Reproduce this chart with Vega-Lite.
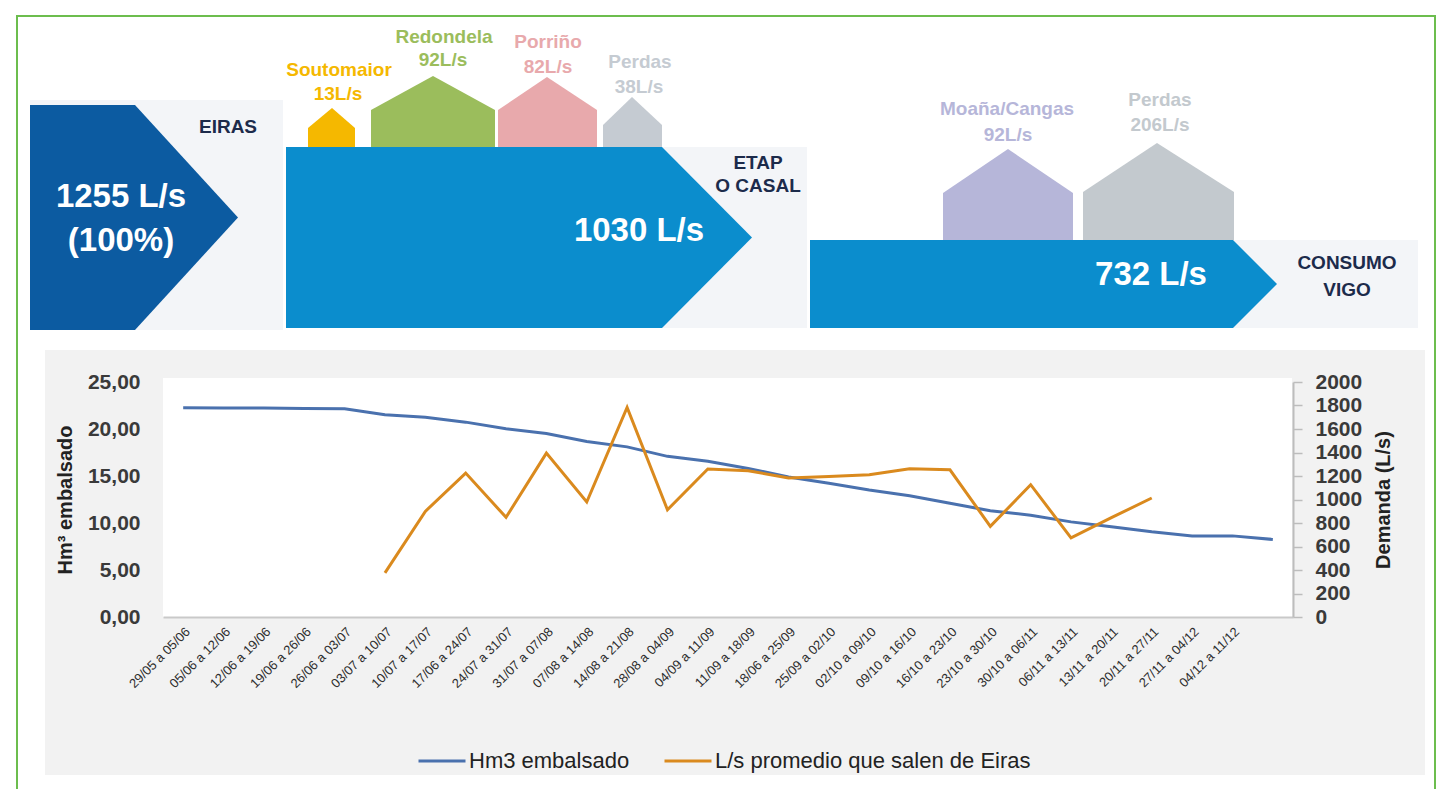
{
  "$schema": "https://vega.github.io/schema/vega-lite/v6.json",
  "width": 1130,
  "height": 235,
  "autosize": {"type": "none"},
  "padding": {"left": 163, "top": 382, "right": 153, "bottom": 172},
  "background": "#ffffff",
  "config": {"view": {"stroke": null}, "font": "Liberation Sans"},
  "datasets": {
    "fondos": [
      {"forma": "fondo gráfico", "gx": 45, "gx2": 1425, "gy": 350, "gy2": 775},
      {"forma": "área gráfico", "gx": 163, "gx2": 1292, "gy": 378, "gy2": 617},
      {"forma": "fondo", "gx": 30, "gx2": 283, "gy": 100, "gy2": 330},
      {"forma": "fondo", "gx": 662, "gx2": 807, "gy": 147, "gy2": 328},
      {"forma": "fondo", "gx": 1233, "gx2": 1418, "gy": 240, "gy2": 328}
    ],
    "formas": [
      {"forma": "EIRAS", "gx": 30, "gy": 105, "gy2": 330},
      {"forma": "EIRAS", "gx": 135, "gy": 105, "gy2": 330},
      {"forma": "EIRAS", "gx": 238, "gy": 217.5, "gy2": 217.5},
      {"forma": "ETAP", "gx": 286, "gy": 147, "gy2": 328},
      {"forma": "ETAP", "gx": 662, "gy": 147, "gy2": 328},
      {"forma": "ETAP", "gx": 752, "gy": 237.5, "gy2": 237.5},
      {"forma": "CONSUMO", "gx": 810, "gy": 240, "gy2": 328},
      {"forma": "CONSUMO", "gx": 1233, "gy": 240, "gy2": 328},
      {"forma": "CONSUMO", "gx": 1277, "gy": 284, "gy2": 284},
      {"forma": "Soutomaior", "gx": 308, "gy": 128, "gy2": 147},
      {"forma": "Soutomaior", "gx": 332, "gy": 108, "gy2": 147},
      {"forma": "Soutomaior", "gx": 355, "gy": 128, "gy2": 147},
      {"forma": "Redondela", "gx": 371, "gy": 110, "gy2": 147},
      {"forma": "Redondela", "gx": 433, "gy": 76, "gy2": 147},
      {"forma": "Redondela", "gx": 495, "gy": 110, "gy2": 147},
      {"forma": "Porriño", "gx": 498, "gy": 110, "gy2": 147},
      {"forma": "Porriño", "gx": 547, "gy": 77, "gy2": 147},
      {"forma": "Porriño", "gx": 597, "gy": 110, "gy2": 147},
      {"forma": "Perdas ETAP", "gx": 603, "gy": 125, "gy2": 147},
      {"forma": "Perdas ETAP", "gx": 632, "gy": 97, "gy2": 147},
      {"forma": "Perdas ETAP", "gx": 662, "gy": 125, "gy2": 147},
      {"forma": "Moaña/Cangas", "gx": 943, "gy": 193, "gy2": 240},
      {"forma": "Moaña/Cangas", "gx": 1008, "gy": 149, "gy2": 240},
      {"forma": "Moaña/Cangas", "gx": 1073, "gy": 193, "gy2": 240},
      {"forma": "Perdas Vigo", "gx": 1083, "gy": 192, "gy2": 240},
      {"forma": "Perdas Vigo", "gx": 1157, "gy": 143, "gy2": 240},
      {"forma": "Perdas Vigo", "gx": 1234, "gy": 192, "gy2": 240}
    ],
    "textos_valor": [
      {"texto": "1255 L/s", "gx": 121, "gy": 197},
      {"texto": "(100%)", "gx": 121, "gy": 241},
      {"texto": "1030 L/s", "gx": 639, "gy": 231},
      {"texto": "732 L/s", "gx": 1151, "gy": 275}
    ],
    "textos_lugar": [
      {"texto": "EIRAS", "gx": 228, "gy": 127},
      {"texto": "ETAP", "gx": 758, "gy": 163},
      {"texto": "O CASAL", "gx": 758, "gy": 186},
      {"texto": "CONSUMO", "gx": 1347, "gy": 263},
      {"texto": "VIGO", "gx": 1347, "gy": 290}
    ],
    "textos_casas": [
      {"forma": "Soutomaior", "texto": "Soutomaior", "gx": 339, "gy": 70},
      {"forma": "Soutomaior", "texto": "13L/s", "gx": 338, "gy": 94},
      {"forma": "Redondela", "texto": "Redondela", "gx": 444, "gy": 37},
      {"forma": "Redondela", "texto": "92L/s", "gx": 443, "gy": 60},
      {"forma": "Porriño", "texto": "Porriño", "gx": 548, "gy": 42},
      {"forma": "Porriño", "texto": "82L/s", "gx": 548, "gy": 67},
      {"forma": "Perdas ETAP", "texto": "Perdas", "gx": 640, "gy": 62},
      {"forma": "Perdas ETAP", "texto": "38L/s", "gx": 639, "gy": 87},
      {"forma": "Moaña/Cangas", "texto": "Moaña/Cangas", "gx": 1007, "gy": 109},
      {"forma": "Moaña/Cangas", "texto": "92L/s", "gx": 1008, "gy": 135},
      {"forma": "Perdas Vigo", "texto": "Perdas", "gx": 1160, "gy": 100},
      {"forma": "Perdas Vigo", "texto": "206L/s", "gx": 1160, "gy": 125}
    ],
    "marco": [{"gx": 17, "gx2": 1435, "gy": 16, "gy2": 805}],
    "semanal": [
      {"semana": "29/05 a 05/06", "hm3": 22.26, "ls": null},
      {"semana": "05/06 a 12/06", "hm3": 22.24, "ls": null},
      {"semana": "12/06 a 19/06", "hm3": 22.23, "ls": null},
      {"semana": "19/06 a 26/06", "hm3": 22.19, "ls": null},
      {"semana": "26/06 a 03/07", "hm3": 22.15, "ls": null},
      {"semana": "03/07 a 10/07", "hm3": 21.52, "ls": 376},
      {"semana": "10/07 a 17/07", "hm3": 21.26, "ls": 899},
      {"semana": "17/06 a 24/07", "hm3": 20.73, "ls": 1225},
      {"semana": "24/07 a 31/07", "hm3": 20.03, "ls": 848},
      {"semana": "31/07 a 07/08", "hm3": 19.53, "ls": 1395},
      {"semana": "07/08 a 14/08", "hm3": 18.68, "ls": 979},
      {"semana": "14/08 a 21/08", "hm3": 18.1, "ls": 1783},
      {"semana": "28/08 a 04/09", "hm3": 17.09, "ls": 913},
      {"semana": "04/09 a 11/09", "hm3": 16.56, "ls": 1259},
      {"semana": "11/09 a 18/09", "hm3": 15.8, "ls": 1245},
      {"semana": "18/06 a 25/09", "hm3": 14.9, "ls": 1183},
      {"semana": "25/09 a 02/10", "hm3": 14.23, "ls": 1196},
      {"semana": "02/10 a 09/10", "hm3": 13.5, "ls": 1211},
      {"semana": "09/10 a 16/10", "hm3": 12.9, "ls": 1262},
      {"semana": "16/10 a 23/10", "hm3": 12.1, "ls": 1253},
      {"semana": "23/10 a 30/10", "hm3": 11.3, "ls": 771},
      {"semana": "30/10 a 06/11", "hm3": 10.83, "ls": 1126},
      {"semana": "06/11 a 13/11", "hm3": 10.12, "ls": 673},
      {"semana": "13/11 a 20/11", "hm3": 9.59, "ls": 845},
      {"semana": "20/11 a 27/11", "hm3": 9.06, "ls": 1013},
      {"semana": "27/11 a 04/12", "hm3": 8.63, "ls": null},
      {"semana": "04/12 a 11/12", "hm3": 8.63, "ls": null},
      {"semana": "", "hm3": 8.25, "ls": null}
    ]
  },
  "layer": [
    {
      "layer": [
        {
          "data": {"name": "fondos"},
          "mark": {"type": "rect"},
          "encoding": {
            "x": {"field": "gx", "type": "quantitative", "scale": {"domain": [0, 1446], "range": [-163, 1283], "nice": false, "zero": false}, "axis": null},
            "x2": {"field": "gx2"},
            "y": {"field": "gy", "type": "quantitative", "scale": {"domain": [0, 789], "range": [-382, 407], "nice": false, "zero": false}, "axis": null},
            "y2": {"field": "gy2"},
            "fill": {"field": "forma", "type": "nominal", "legend": null,
              "scale": {"domain": ["EIRAS", "ETAP", "CONSUMO", "Soutomaior", "Redondela", "Porriño", "Perdas ETAP", "Moaña/Cangas", "Perdas Vigo", "fondo", "fondo gráfico", "área gráfico"],
                        "range": ["#0c5ba1", "#0b8dcd", "#0b8dcd", "#f5b800", "#9bbd5c", "#e8a9ac", "#c5cbd2", "#b6b6d9", "#c3c9ce", "#f3f5f8", "#f2f2f2", "#ffffff"]}}
          }
        },
        {
          "data": {"name": "formas"},
          "mark": {"type": "area", "interpolate": "linear"},
          "encoding": {
            "x": {"field": "gx", "type": "quantitative", "scale": {"domain": [0, 1446], "range": [-163, 1283], "nice": false, "zero": false}, "axis": null},
            "y": {"field": "gy", "type": "quantitative", "stack": null, "scale": {"domain": [0, 789], "range": [-382, 407], "nice": false, "zero": false}, "axis": null},
            "y2": {"field": "gy2"},
            "fill": {"field": "forma", "type": "nominal", "legend": null,
              "scale": {"domain": ["EIRAS", "ETAP", "CONSUMO", "Soutomaior", "Redondela", "Porriño", "Perdas ETAP", "Moaña/Cangas", "Perdas Vigo", "fondo", "fondo gráfico", "área gráfico"],
                        "range": ["#0c5ba1", "#0b8dcd", "#0b8dcd", "#f5b800", "#9bbd5c", "#e8a9ac", "#c5cbd2", "#b6b6d9", "#c3c9ce", "#f3f5f8", "#f2f2f2", "#ffffff"]}}
          }
        },
        {
          "data": {"name": "textos_valor"},
          "mark": {"type": "text", "font": "Liberation Sans", "fontSize": 33, "fontWeight": "bold", "fill": "#ffffff", "align": "center", "baseline": "middle"},
          "encoding": {
            "x": {"field": "gx", "type": "quantitative", "scale": {"domain": [0, 1446], "range": [-163, 1283], "nice": false, "zero": false}, "axis": null},
            "y": {"field": "gy", "type": "quantitative", "scale": {"domain": [0, 789], "range": [-382, 407], "nice": false, "zero": false}, "axis": null},
            "text": {"field": "texto"}
          }
        },
        {
          "data": {"name": "textos_lugar"},
          "mark": {"type": "text", "font": "Liberation Sans", "fontSize": 19, "fontWeight": "bold", "fill": "#1c2b4b", "align": "center", "baseline": "middle"},
          "encoding": {
            "x": {"field": "gx", "type": "quantitative", "scale": {"domain": [0, 1446], "range": [-163, 1283], "nice": false, "zero": false}, "axis": null},
            "y": {"field": "gy", "type": "quantitative", "scale": {"domain": [0, 789], "range": [-382, 407], "nice": false, "zero": false}, "axis": null},
            "text": {"field": "texto"}
          }
        },
        {
          "data": {"name": "textos_casas"},
          "mark": {"type": "text", "font": "Liberation Sans", "fontSize": 19, "fontWeight": "bold", "align": "center", "baseline": "middle"},
          "encoding": {
            "x": {"field": "gx", "type": "quantitative", "scale": {"domain": [0, 1446], "range": [-163, 1283], "nice": false, "zero": false}, "axis": null},
            "y": {"field": "gy", "type": "quantitative", "scale": {"domain": [0, 789], "range": [-382, 407], "nice": false, "zero": false}, "axis": null},
            "text": {"field": "texto"},
            "fill": {"field": "forma", "type": "nominal", "legend": null,
              "scale": {"domain": ["EIRAS", "ETAP", "CONSUMO", "Soutomaior", "Redondela", "Porriño", "Perdas ETAP", "Moaña/Cangas", "Perdas Vigo", "fondo", "fondo gráfico", "área gráfico"],
                        "range": ["#0c5ba1", "#0b8dcd", "#0b8dcd", "#f5b800", "#9bbd5c", "#e8a9ac", "#c5cbd2", "#b6b6d9", "#c3c9ce", "#f3f5f8", "#f2f2f2", "#ffffff"]}}
          }
        },
        {
          "data": {"name": "marco"},
          "mark": {"type": "rect", "fill": "transparent", "stroke": "#6cbd4e", "strokeWidth": 2},
          "encoding": {
            "x": {"field": "gx", "type": "quantitative", "scale": {"domain": [0, 1446], "range": [-163, 1283], "nice": false, "zero": false}, "axis": null},
            "x2": {"field": "gx2"},
            "y": {"field": "gy", "type": "quantitative", "scale": {"domain": [0, 789], "range": [-382, 407], "nice": false, "zero": false}, "axis": null},
            "y2": {"field": "gy2"}
          }
        }
      ]
    },
    {
      "data": {"name": "semanal"},
      "encoding": {
        "x": {
          "field": "semana", "type": "nominal", "sort": null,
          "scale": {"type": "point", "padding": 0.5, "domain": ["29/05 a 05/06", "05/06 a 12/06", "12/06 a 19/06", "19/06 a 26/06", "26/06 a 03/07", "03/07 a 10/07", "10/07 a 17/07", "17/06 a 24/07", "24/07 a 31/07", "31/07 a 07/08", "07/08 a 14/08", "14/08 a 21/08", "28/08 a 04/09", "04/09 a 11/09", "11/09 a 18/09", "18/06 a 25/09", "25/09 a 02/10", "02/10 a 09/10", "09/10 a 16/10", "16/10 a 23/10", "23/10 a 30/10", "30/10 a 06/11", "06/11 a 13/11", "13/11 a 20/11", "20/11 a 27/11", "27/11 a 04/12", "04/12 a 11/12", ""]},
          "axis": {"orient": "bottom", "title": null, "labelAngle": -45, "labelAlign": "right", "labelBaseline": "top", "labelFont": "Liberation Sans", "labelFontSize": 13, "labelColor": "#2e2e2e", "labelPadding": 8, "ticks": false, "domain": true, "domainColor": "#c9c9c9", "domainWidth": 2, "grid": false, "labelOverlap": false, "labelBound": false, "labelLimit": 300, "zindex": 1}
        }
      },
      "layer": [
        {
          "mark": {"type": "line", "strokeWidth": 3},
          "encoding": {
            "y": {"field": "hm3", "type": "quantitative", "scale": {"domain": [0, 25], "nice": false},
              "axis": {"orient": "left", "values": [0, 5, 10, 15, 20, 25], "labelExpr": "replace(format(datum.value, '.2f'), '.', ',')", "title": "Hm³ embalsado", "titleFont": "Liberation Sans", "titleFontSize": 20, "titleFontWeight": "bold", "titleColor": "#222222", "titlePadding": 12, "labelFont": "Liberation Sans", "labelFontSize": 21, "labelFontWeight": "bold", "labelColor": "#3a3a3a", "labelPadding": 23, "ticks": false, "domain": false, "grid": false, "labelOverlap": false, "zindex": 1}},
            "stroke": {"datum": "Hm3 embalsado", "type": "nominal",
              "scale": {"domain": ["Hm3 embalsado", "L/s promedio que salen de Eiras"], "range": ["#4a71ae", "#da8a1e"]},
              "legend": {"orient": "none", "legendX": 254, "legendY": 354, "direction": "horizontal", "title": null, "symbolType": "stroke", "symbolSize": 2209, "symbolStrokeWidth": 3, "labelFont": "Liberation Sans", "labelFontSize": 22, "labelColor": "#222222", "labelLimit": 0, "columnPadding": 28, "labelOffset": 2, "padding": 0, "zindex": 1}}
          }
        },
        {
          "mark": {"type": "line", "strokeWidth": 3},
          "encoding": {
            "y": {"field": "ls", "type": "quantitative", "scale": {"domain": [0, 2000], "nice": false},
              "axis": {"orient": "right", "values": [0, 200, 400, 600, 800, 1000, 1200, 1400, 1600, 1800, 2000], "format": "d", "title": "Demanda (L/s)", "titleAngle": 270, "titleBaseline": "top", "titleFont": "Liberation Sans", "titleFontSize": 20, "titleFontWeight": "bold", "titleColor": "#222222", "titlePadding": 12, "labelFont": "Liberation Sans", "labelFontSize": 21, "labelFontWeight": "bold", "labelColor": "#3a3a3a", "labelPadding": 13, "ticks": true, "tickSize": 9, "tickColor": "#bdbdbd", "tickWidth": 1.5, "domain": true, "domainColor": "#bdbdbd", "domainWidth": 2, "grid": false, "labelOverlap": false, "zindex": 1}},
            "stroke": {"datum": "L/s promedio que salen de Eiras", "type": "nominal"}
          }
        }
      ],
      "resolve": {"scale": {"y": "independent"}}
    }
  ],
  "resolve": {"scale": {"x": "independent", "y": "independent"}}
}
